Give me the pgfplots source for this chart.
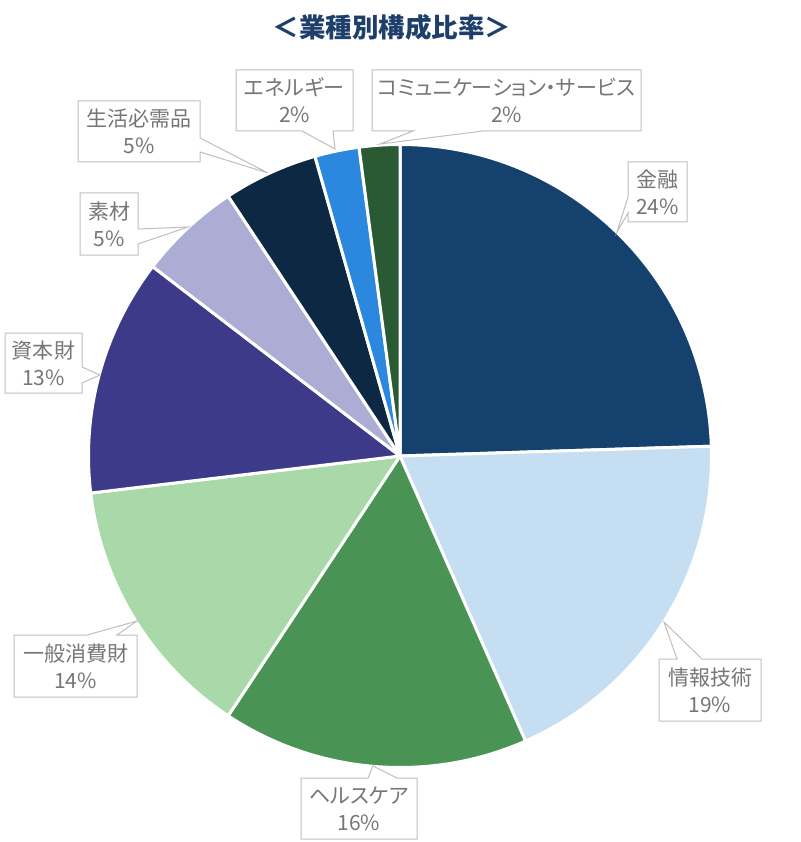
\documentclass[border=0pt]{standalone}
\usepackage{pgfplots}
\pgfplotsset{compat=1.18}
\usepackage{pgfplotstable}
\usepackage{fontspec}
\setmainfont{Noto Sans CJK JP}
\newfontfamily\labelfont{Noto Sans CJK JP}[RawFeature=+palt]

\definecolor{cA}{HTML}{14416E}
\definecolor{cB}{HTML}{C5DEF2}
\definecolor{cC}{HTML}{499454}
\definecolor{cD}{HTML}{A9D8A9}
\definecolor{cE}{HTML}{3D3A8A}
\definecolor{cF}{HTML}{ABADD4}
\definecolor{cG}{HTML}{0C2842}
\definecolor{cH}{HTML}{2C88DE}
\definecolor{cI}{HTML}{2A5A34}
\definecolor{titleblue}{HTML}{1F3F6B}
\definecolor{boxgray}{HTML}{BFBFBF}
\definecolor{txtgray}{HTML}{767676}

% share of each sector (%), clockwise from 12 o'clock
\pgfplotstableread{
name value col
金融 24.5 cA
情報技術 18.9 cB
ヘルスケア 15.9 cC
一般消費財 13.8 cD
資本財 12.3 cE
素材 5.3 cF
生活必需品 4.9 cG
エネルギー 2.3 cH
コミュニケーション・サービス 2.1 cI
}\sectortable

\tikzset{
  callout/.style={draw=boxgray, fill=white, line width=1pt, line join=miter},
  lbl/.style={text=txtgray, align=center, font=\labelfont\fontsize{21}{27}\selectfont},
}

\begin{document}
\begin{tikzpicture}
% cumulative angles of the sectors
\pgfplotstablegetrowsof{\sectortable}
\pgfmathtruncatemacro{\nrows}{\pgfplotsretval-1}
\def\cum{0}
\pgfplotsforeachungrouped \i in {0,...,\nrows}{%
  \pgfplotstablegetelem{\i}{value}\of\sectortable
  \pgfmathsetmacro{\a}{\cum*3.6}%
  \pgfmathsetmacro{\cum}{\cum+\pgfplotsretval}%
  \pgfmathsetmacro{\b}{\cum*3.6}%
  \expandafter\xdef\csname sa\i\endcsname{\a}%
  \expandafter\xdef\csname sb\i\endcsname{\b}%
  \pgfplotstablegetelem{\i}{col}\of\sectortable
  \expandafter\xdef\csname sc\i\endcsname{\pgfplotsretval}%
}
\useasboundingbox (0,0) rectangle (800pt,842pt);
\begin{axis}[
  at={(0,0)}, anchor=south west,
  width=800pt, height=842pt, scale only axis,
  xmin=0, xmax=800, ymin=0, ymax=842, y dir=reverse,
  axis lines=none, clip=false,
]
\pgfplotsinvokeforeach{0,...,\nrows}{
  \fill[fill=\csname sc#1\endcsname, draw=white, line width=3pt, line join=round]
    (axis cs:400,456) -- ++({90-\csname sa#1\endcsname}:311.5pt)
    arc[start angle={90-\csname sa#1\endcsname}, end angle={90-\csname sb#1\endcsname}, radius=311.5pt] -- cycle;
}

% data callouts
\draw[callout] (axis cs:628,162) -- (axis cs:687,162) -- (axis cs:687,222) -- (axis cs:628,222)
  -- (axis cs:628,213) -- (axis cs:617,232) -- (axis cs:628,197) -- cycle;
\node[lbl] at (axis cs:657.5,192) {金融\\24\%};

\draw[callout] (axis cs:659,659) -- (axis cs:677,659) -- (axis cs:664,622) -- (axis cs:702,659)
  -- (axis cs:761,659) -- (axis cs:761,721) -- (axis cs:659,721) -- cycle;
\node[lbl] at (axis cs:710,690) {情報技術\\19\%};

\draw[callout] (axis cs:301,778) -- (axis cs:368,778) -- (axis cs:373,766) -- (axis cs:397,778)
  -- (axis cs:417,778) -- (axis cs:417,839) -- (axis cs:301,839) -- cycle;
\node[lbl] at (axis cs:359,808.5) {ヘルスケア\\16\%};

\draw[callout] (axis cs:14,635) -- (axis cs:87,635) -- (axis cs:137,621) -- (axis cs:117,635)
  -- (axis cs:137,635) -- (axis cs:137,697) -- (axis cs:14,697) -- cycle;
\node[lbl] at (axis cs:75.5,666) {一般消費財\\14\%};

\draw[callout] (axis cs:5,333) -- (axis cs:82,333) -- (axis cs:82,367) -- (axis cs:100,375)
  -- (axis cs:82,383) -- (axis cs:82,393) -- (axis cs:5,393) -- cycle;
\node[lbl] at (axis cs:43.5,363) {資本財\\13\%};

\draw[callout] (axis cs:80,193) -- (axis cs:138,193) -- (axis cs:138,229) -- (axis cs:188,227)
  -- (axis cs:138,244) -- (axis cs:138,255) -- (axis cs:80,255) -- cycle;
\node[lbl] at (axis cs:109,224) {素材\\5\%};

\draw[callout] (axis cs:78,101) -- (axis cs:200,101) -- (axis cs:200,138) -- (axis cs:268,173)
  -- (axis cs:200,152) -- (axis cs:200,162) -- (axis cs:78,162) -- cycle;
\node[lbl] at (axis cs:139,131.5) {生活必需品\\5\%};

\draw[callout] (axis cs:236,70) -- (axis cs:353,70) -- (axis cs:353,131) -- (axis cs:333,131)
  -- (axis cs:335,149) -- (axis cs:302,131) -- (axis cs:236,131) -- cycle;
\node[lbl] at (axis cs:294.5,100.5) {エネルギー\\2\%};

\draw[callout] (axis cs:372,70) -- (axis cs:641,70) -- (axis cs:641,131) -- (axis cs:483,131)
  -- (axis cs:380,144) -- (axis cs:413,131) -- (axis cs:372,131) -- cycle;
\node[lbl] at (axis cs:506.5,100.5) {コミュニケーション・サービス\\2\%};

% title
\node[text=titleblue, font=\bfseries\fontsize{26.5}{30}\selectfont] at (axis cs:392,27) {＜業種別構成比率＞};
\end{axis}
\end{tikzpicture}
\end{document}
